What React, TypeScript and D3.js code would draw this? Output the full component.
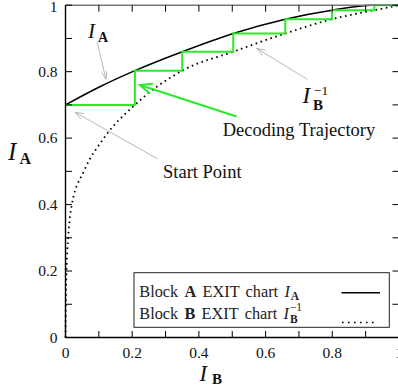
import React from 'react';
import * as d3 from 'd3';

// ---- data ----
const tickValues = [0, 0.1, 0.2, 0.3, 0.4, 0.5, 0.6, 0.7, 0.8, 0.9, 1];
const labelValues = [0, 0.2, 0.4, 0.6, 0.8, 1];
const tickLabels = ['0', '0.2', '0.4', '0.6', '0.8', '1'];

// Block A EXIT chart I_A (solid)
const iaX = [0, 0.1, 0.208, 0.35, 0.503, 0.659, 0.799, 0.92, 1];
const iaY = [0.7, 0.753, 0.803, 0.86, 0.915, 0.958, 0.985, 1, 1];

// Block B EXIT chart I_B^-1 (dotted)
const ibX = [0, 0.001, 0.003, 0.008, 0.019, 0.055, 0.115, 0.208, 0.35, 0.503, 0.659, 0.799, 0.926, 1];
const ibY = [0, 0.1, 0.2, 0.3, 0.4, 0.5, 0.6, 0.7, 0.803, 0.86, 0.915, 0.958, 0.985, 1];

// decoding trajectory staircase
const trajIB = [0.208, 0.35, 0.503, 0.659, 0.799, 0.926];
const trajIA = [0.7, 0.803, 0.86, 0.915, 0.958, 0.985, 1.0];

// annotation arrows [fromX, fromY, toX, toY] in data units
const arrowIA = [0.0946, 0.8905, 0.1213, 0.7774];
const arrowStart = [0.277, 0.537, 0.0284, 0.678];
const arrowIB = [0.725, 0.777, 0.573, 0.87];
const arrowTraj = [0.513, 0.665, 0.223, 0.76];

const W = 398;
const H = 392;
const L = 65.5, R = 399, T = 5.2, B = 337.5;
const FONT = '"Liberation Serif", "Times New Roman", serif';
const GREEN = '#2bea2b';
const GRAY = '#b8b8b8';

function arrowPath(x: d3.ScaleLinear<number, number>, y: d3.ScaleLinear<number, number>, a: number[], len: number, ang: number) {
  const x1 = x(a[0]), y1 = y(a[1]), x2 = x(a[2]), y2 = y(a[3]);
  const t = Math.atan2(y1 - y2, x1 - x2);
  const w1 = [x2 + len * Math.cos(t + ang), y2 + len * Math.sin(t + ang)];
  const w2 = [x2 + len * Math.cos(t - ang), y2 + len * Math.sin(t - ang)];
  return {
    shaft: `M${x1},${y1}L${x2},${y2}`,
    head: `M${w1[0]},${w1[1]}L${x2},${y2}L${w2[0]},${w2[1]}`,
  };
}

export default function App() {
  const x = d3.scaleLinear().domain([0, 1]).range([L, R]);
  const y = d3.scaleLinear().domain([0, 1]).range([B, T]);

  const line = d3.line<[number, number]>()
    .x(d => x(d[0]))
    .y(d => y(d[1]))
    .curve(d3.curveMonotoneX);

  const iaPts: [number, number][] = iaX.map((v, i) => [v, iaY[i]]);
  const ibPts: [number, number][] = ibX.map((v, i) => [v, ibY[i]]);

  const trajPts: [number, number][] = [[0, trajIA[0]]];
  trajIB.forEach((v, i) => {
    trajPts.push([v, trajIA[i]]);
    trajPts.push([v, trajIA[i + 1]]);
  });
  trajPts.push([1, trajIA[trajIA.length - 1]]);
  const trajLine = d3.line<[number, number]>().x(d => x(d[0])).y(d => y(d[1]));

  const aIA = arrowPath(x, y, arrowIA, 8, 0.35);
  const aStart = arrowPath(x, y, arrowStart, 9, 0.35);
  const aIB = arrowPath(x, y, arrowIB, 9, 0.35);
  const aTraj = arrowPath(x, y, arrowTraj, 13, 0.4);

  return (
    <svg width={W} height={H} style={{ position: 'absolute', left: 0, top: 0, background: '#fff' }} fontFamily={FONT}>
      <rect x={0} y={0} width={W} height={H} fill="#fff" />

      {/* curves */}
      <path d={line(ibPts) || ''} fill="none" stroke="#000" strokeWidth={1.8} strokeDasharray="1.6,3.6" />
      <path d={line(iaPts) || ''} fill="none" stroke="#000" strokeWidth={1.5} />
      <path d={trajLine(trajPts) || ''} fill="none" stroke={GREEN} strokeWidth={2} />

      {/* frame */}
      <line x1={L} x2={R} y1={T} y2={T} stroke="#777" strokeWidth={1.6} />
      <line x1={R} x2={R} y1={T} y2={B} stroke="#000" strokeWidth={1.3} />
      <line x1={L} x2={L} y1={T} y2={B} stroke="#000" strokeWidth={1.4} />
      <line x1={L} x2={R} y1={B} y2={B} stroke="#000" strokeWidth={1.4} />

      {/* ticks */}
      {tickValues.map((v, i) => (
        <g key={'t' + i} stroke="#000" strokeWidth={1}>
          <line x1={x(v)} x2={x(v)} y1={B} y2={B - 6.5} />
          <line x1={x(v)} x2={x(v)} y1={T} y2={T + 6.5} />
          <line x1={L} x2={L + 6.5} y1={y(v)} y2={y(v)} />
          <line x1={R} x2={R - 6.5} y1={y(v)} y2={y(v)} />
        </g>
      ))}

      {/* tick labels */}
      {labelValues.map((v, i) => (
        <text key={'yl' + i} x={57.5} y={Math.max(y(v) + 5.3, 12)} textAnchor="end" fontSize={15.5} fill="#111">{tickLabels[i]}</text>
      ))}
      {labelValues.map((v, i) => (
        <text key={'xl' + i} x={x(v)} y={358.3} textAnchor="middle" fontSize={15.5} fill="#111">{tickLabels[i]}</text>
      ))}

      {/* axis titles */}
      <text x={8} y={160} fontSize={25} fontStyle="italic" fill="#111">I</text>
      <text x={19.5} y={163.5} fontSize={16} fontWeight="bold" fill="#111">A</text>
      <text x={199.5} y={380.7} fontSize={22.5} fontStyle="italic" fill="#111">I</text>
      <text x={212} y={384} fontSize={15} fontWeight="bold" fill="#111">B</text>

      {/* annotation arrows */}
      <g fill="none" stroke={GRAY} strokeWidth={1}>
        <path d={aIA.shaft} /><path d={aIA.head} />
        <path d={aStart.shaft} /><path d={aStart.head} />
        <path d={aIB.shaft} /><path d={aIB.head} />
      </g>
      <g fill="none" stroke={GREEN} strokeWidth={2}>
        <path d={aTraj.shaft} /><path d={aTraj.head} />
      </g>

      {/* annotation texts */}
      <text x={88} y={38.3} fontSize={21} fontStyle="italic" fill="#111">I</text>
      <text x={98} y={41.5} fontSize={14} fontWeight="bold" fill="#111">A</text>

      <text x={302.5} y={103} fontSize={23} fontStyle="italic" fill="#111">I</text>
      <text x={313} y={109.5} fontSize={15} fontWeight="bold" fill="#111">B</text>
      <text x={314} y={95} fontSize={13.5} fill="#111">−1</text>

      <text x={222.7} y={136} fontSize={18.5} fill="#111">Decoding Trajectory</text>
      <text x={163} y={178.3} fontSize={18.5} fill="#111">Start Point</text>

      {/* legend */}
      <rect x={134} y={272.7} width={255.3} height={54.6} fill="#fff" stroke="#222" strokeWidth={1} />
      <g fontSize={16.3} fill="#222">
        <text x={139.3} y={296.7} wordSpacing={2.2}>
          Block <tspan fontWeight="bold">A</tspan> EXIT chart <tspan fontStyle="italic">I</tspan>
          <tspan fontSize={11.5} fontWeight="bold" dx={1} dy={3}>A</tspan>
        </text>
        <text x={139.3} y={319.3} wordSpacing={2.2}>
          Block <tspan fontWeight="bold">B</tspan> EXIT chart <tspan fontStyle="italic">I</tspan>
          <tspan fontSize={11.5} fontWeight="bold" dx={1} dy={3.5}>B</tspan>
          <tspan fontSize={11.5} dx={-7.7} dy={-12}>−1</tspan>
        </text>
      </g>
      <line x1={341.5} x2={380} y1={292.7} y2={292.7} stroke="#000" strokeWidth={1.5} />
      <line x1={342} x2={377} y1={322.5} y2={322.5} stroke="#000" strokeWidth={1.6} strokeDasharray="1.6,4.4" />
    </svg>
  );
}
